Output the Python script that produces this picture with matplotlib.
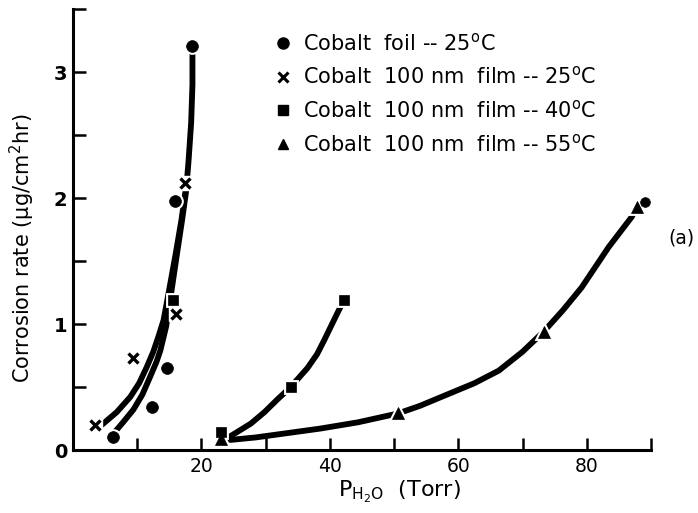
import matplotlib
matplotlib.use("Agg")
import matplotlib.pyplot as plt
from matplotlib.lines import Line2D

# ---- data ----
foil_x = [6.3, 12.3, 14.7, 15.9, 18.6]
foil_y = [0.10, 0.34, 0.65, 1.98, 3.21]

film25_x = [3.4, 9.4, 16.1, 17.5]
film25_y = [0.20, 0.73, 1.08, 2.12]

film40_x = [23.0, 15.5, 33.9, 42.2]
film40_y = [0.14, 1.19, 0.50, 1.19]

film55_x = [23.0, 50.6, 73.3, 87.8]
film55_y = [0.09, 0.29, 0.94, 1.93]

extra_x = [89.0]
extra_y = [1.97]

# hand-drawn guide curves
foil_curve_x = [6.3, 7.8, 9.4, 10.8, 12.0, 13.0, 13.6, 14.5, 15.3, 16.2, 17.0, 17.6, 18.0, 18.4, 18.5, 18.6, 18.6]
foil_curve_y = [0.13, 0.22, 0.32, 0.44, 0.58, 0.70, 0.79, 0.98, 1.25, 1.56, 1.83, 2.05, 2.30, 2.60, 2.75, 2.90, 3.15]

film25_curve_x = [4.5, 6.8, 8.9, 10.3, 11.5, 12.5, 13.3, 14.1, 14.9, 16.0, 16.9, 17.5]
film25_curve_y = [0.20, 0.30, 0.42, 0.53, 0.66, 0.78, 0.90, 1.03, 1.25, 1.56, 1.83, 2.05]

film40_curve_x = [24.2, 25.8, 27.7, 29.8, 31.8, 33.9, 36.5, 38.0, 39.1, 41.2, 42.2]
film40_curve_y = [0.10, 0.15, 0.21, 0.30, 0.40, 0.50, 0.65, 0.76, 0.87, 1.09, 1.19]

film55_curve_x = [24.5, 28.5, 32.8, 38.5, 44.4, 50.6, 54.0, 57.3, 62.5, 66.3, 70.0, 73.3, 76.3, 79.2, 83.4, 87.0, 87.8]
film55_curve_y = [0.08, 0.10, 0.13, 0.17, 0.22, 0.29, 0.35, 0.42, 0.53, 0.63, 0.78, 0.94, 1.11, 1.29, 1.61, 1.85, 1.93]

labels = [r"Cobalt  foil -- 25$^{\rm o}$C",
          r"Cobalt  100 nm  film -- 25$^{\rm o}$C",
          r"Cobalt  100 nm  film -- 40$^{\rm o}$C",
          r"Cobalt  100 nm  film -- 55$^{\rm o}$C"]

x_major = [20, 40, 60, 80]
x_minor = [10, 30, 50, 70, 90]
y_major = [0, 1, 2, 3]
y_minor = [0.5, 1.5, 2.5, 3.5]

plt.rcParams['font.family'] = ['DejaVu Sans']

fig = plt.figure(figsize=(6.98, 5.13), dpi=100)
ax = fig.add_axes([73/698, 63/513, (651-73)/698, 441/513])
ax.set_xlim(0, 90)
ax.set_ylim(0, 3.5)

lw = 4.2
for cx, cy in [(foil_curve_x, foil_curve_y), (film25_curve_x, film25_curve_y),
               (film40_curve_x, film40_curve_y), (film55_curve_x, film55_curve_y)]:
    ax.plot(cx, cy, color='black', lw=lw, solid_capstyle='round',
            solid_joinstyle='round', zorder=2)

series = [(foil_x, foil_y, 'o', 8.5), (film25_x, film25_y, 'x', 7.5),
          (film40_x, film40_y, 's', 7), (film55_x, film55_y, '^', 8.5),
          (extra_x, extra_y, 'o', 7)]
for sx, sy, m, ms in series:
    # white halo to break the curve around each mark
    if m == 'x':
        ax.plot(sx, sy, linestyle='none', marker='s', ms=ms + 3, color='white',
                mec='white', zorder=3)
        ax.plot(sx, sy, linestyle='none', marker='x', ms=ms, color='black',
                mew=2.4, zorder=4)
    else:
        ax.plot(sx, sy, linestyle='none', marker=m, ms=ms, color='black',
                mec='white', mew=3.5, zorder=3)
        ax.plot(sx, sy, linestyle='none', marker=m, ms=ms, color='black',
                mec='black', mew=0.5, zorder=4)

for s in ['top', 'right']:
    ax.spines[s].set_visible(False)
for s in ['left', 'bottom']:
    ax.spines[s].set_linewidth(2.2)

ax.set_xticks(x_major)
ax.set_xticks(x_minor, minor=True)
ax.set_yticks(y_major)
ax.set_yticks(y_minor, minor=True)
ax.set_yticklabels([str(v) for v in y_major])
ax.tick_params(which='both', direction='in', length=9, width=1.8, color='black')
ax.tick_params(axis='y', labelsize=14, pad=4)
ax.tick_params(axis='x', labelsize=13.5, pad=5)
for t in ax.get_yticklabels():
    t.set_fontweight('bold')

ax.set_ylabel("Corrosion rate (\u00b5g/cm$^2$hr)", fontsize=15)
ax.yaxis.set_label_coords(-0.062, 0.458)
ax.set_xlabel(r"P$_{\mathrm{H_2O}}$  (Torr)", fontsize=16)
ax.xaxis.set_label_coords(0.564, -0.066)

handles = [Line2D([], [], linestyle='none', marker='o', ms=8, color='black'),
           Line2D([], [], linestyle='none', marker='x', ms=6.5, mew=2.2, color='black'),
           Line2D([], [], linestyle='none', marker='s', ms=6.5, color='black'),
           Line2D([], [], linestyle='none', marker='^', ms=7.5, color='black')]
leg = ax.legend(handles, labels, loc='upper left', bbox_to_anchor=(275/698, 1 - 32/513),
                bbox_transform=fig.transFigure, frameon=False, fontsize=15,
                handlelength=0.8, handletextpad=0.55, labelspacing=0.57,
                borderpad=0, borderaxespad=0)

fig.text(681/698, 1 - 238/513, "(a)", fontsize=13.5, ha='center', va='center')

fig.savefig("out.png", dpi=100)
